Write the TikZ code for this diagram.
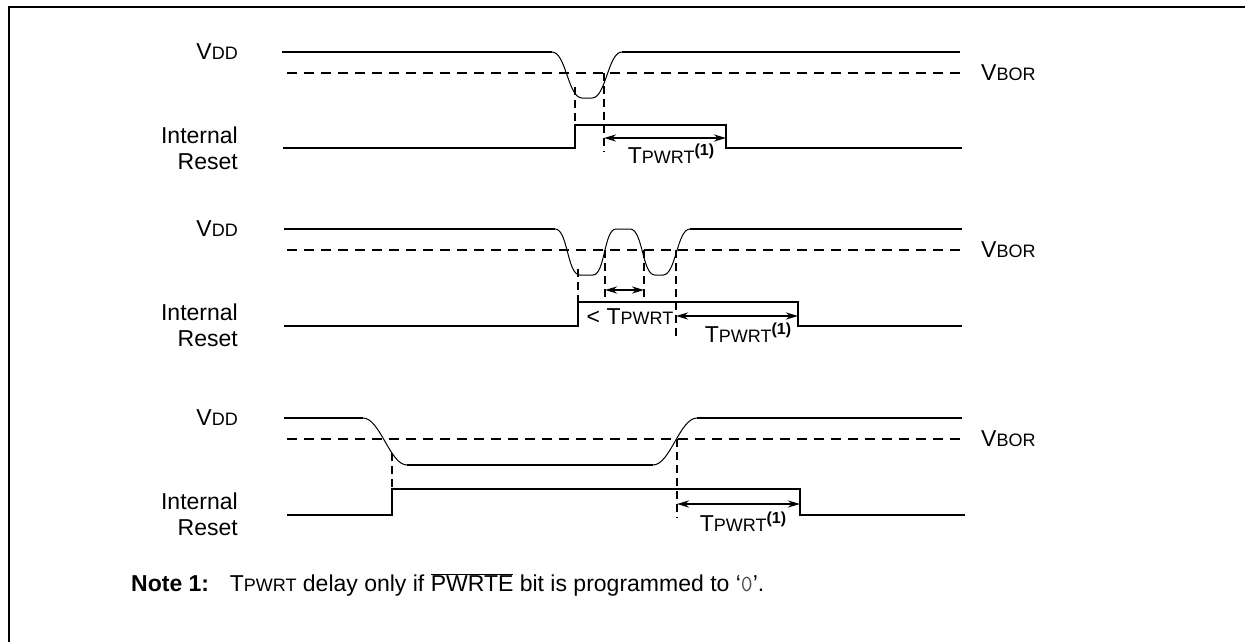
\documentclass[tikz,border=0pt]{standalone}
\usepackage{fontspec}
\setmainfont{Liberation Sans}
\usetikzlibrary{arrows.meta}
\newcommand{\lowcap}[1]{{\fontsize{18}{18}\selectfont #1}}
\newcommand{\tpwrt}{T\lowcap{PWRT}}
\newcommand{\noteone}{\raisebox{8pt}{\fontsize{16}{16}\selectfont\bfseries (1)}}
\tikzset{
    frame/.style={black,line width=2pt},
    signal/.style={black,line width=2.2pt},
    slope/.style={black,line width=1pt},
    threshold/.style={black,line width=2pt,dash pattern=on 10pt off 7pt},
    marker/.style={black,line width=2pt,dash pattern=on 8pt off 5pt},
    timing/.style={{Stealth[length=12pt,width=7pt]}-{Stealth[length=12pt,width=7pt]},line width=2pt},
    label/.style={font=\fontsize{23}{26}\selectfont,inner sep=0pt}
}

\begin{document}
\begin{tikzpicture}[x=1pt,y=-1pt]
\useasboundingbox (0,0) rectangle (1245,642);
\draw[frame] (9,642)--(9,7)--(1245,7);

% labels of the three panels
\foreach \oy/\n in {52/1,229/2,418/3}{
  \node[label,anchor=east] (vdd\n) at (238,\oy) {V\lowcap{DD}};
  \node[label,anchor=east,align=right] (rst\n) at (238,\oy+96) {Internal\\Reset};
  \node[label,anchor=west] (vbor\n) at (981,\oy+21) {V\lowcap{BOR}};
}

% single dip
\begin{scope}[yshift=-52pt]
\draw[signal] (282,0)--(552,0);
\draw[slope] (552,0) .. controls (566,0) and (568,46) .. (582,46)--(592,46) .. controls (606,46) and (608,0) .. (622,0);
\draw[signal] (622,0)--(960,0);
\draw[threshold] (287,21)--(960,21);
\draw[marker] (575,35)--(575,73);
\draw[marker] (604,21)--(604,100);
\draw[signal] (283,96)--(575,96)--(575,73)--(726,73)--(726,96)--(962,96);
\coordinate (a1) at (604,86);
\coordinate (b1) at (726,86);
\draw[timing] (a1)--(b1);
\node[label] (tp1) at (671,102) {\tpwrt\noteone};
\end{scope}

% two short dips
\begin{scope}[yshift=-229pt]
\draw[signal] (284,0)--(555,0);
\draw[slope] (555,0) .. controls (568,0) and (567,46) .. (580,46)--(593,46) .. controls (605,46) and (604,0) .. (616,0)--(630,0)
  .. controls (643,0) and (642,46) .. (655,46)--(663,46) .. controls (676,46) and (677,0) .. (690,0);
\draw[signal] (690,0)--(962,0);
\draw[threshold] (287,21)--(962,21);
\draw[marker] (578,40)--(578,73);
\draw[marker] (605,21)--(605,73);
\draw[marker] (644,21)--(644,73);
\draw[marker] (676,21)--(676,109);
\draw[signal] (284,97)--(578,97)--(578,73)--(798,73)--(798,97)--(962,97);
\coordinate (c2) at (605,61);
\coordinate (d2) at (644,61);
\draw[timing] (c2)--(d2);
\coordinate (a2) at (676,87);
\coordinate (b2) at (798,87);
\draw[timing] (a2)--(b2);
\node[label] (lt2) at (630,88) {< \tpwrt};
\node[label] (tp2) at (748,104) {\tpwrt\noteone};
\end{scope}

% long drop
\begin{scope}[yshift=-418pt]
\draw[signal] (284,0)--(363,0);
\draw[slope] (363,0) .. controls (380,0) and (390,47) .. (407,47);
\draw[signal] (407,47)--(653,47);
\draw[slope] (653,47) .. controls (670,47) and (680,0) .. (697,0);
\draw[signal] (697,0)--(962,0);
\draw[threshold] (287,21)--(962,21);
\draw[marker] (392,35)--(392,71);
\draw[marker] (677,21)--(677,100);
\draw[signal] (287,97)--(392,97)--(392,71)--(800,71)--(800,97)--(965,97);
\coordinate (a3) at (677,86);
\coordinate (b3) at (800,86);
\draw[timing] (a3)--(b3);
\node[label] (tp3) at (743,104) {\tpwrt\noteone};
\end{scope}

\node[label,anchor=base west] (note) at (131,591) {\textbf{Note 1:}\hspace{0.9em}\tpwrt{} delay only if $\overline{\mbox{PWRTE}}$ bit is programmed to ‘{\ttfamily\color{black!70}0}’.};
\end{tikzpicture}
\end{document}
